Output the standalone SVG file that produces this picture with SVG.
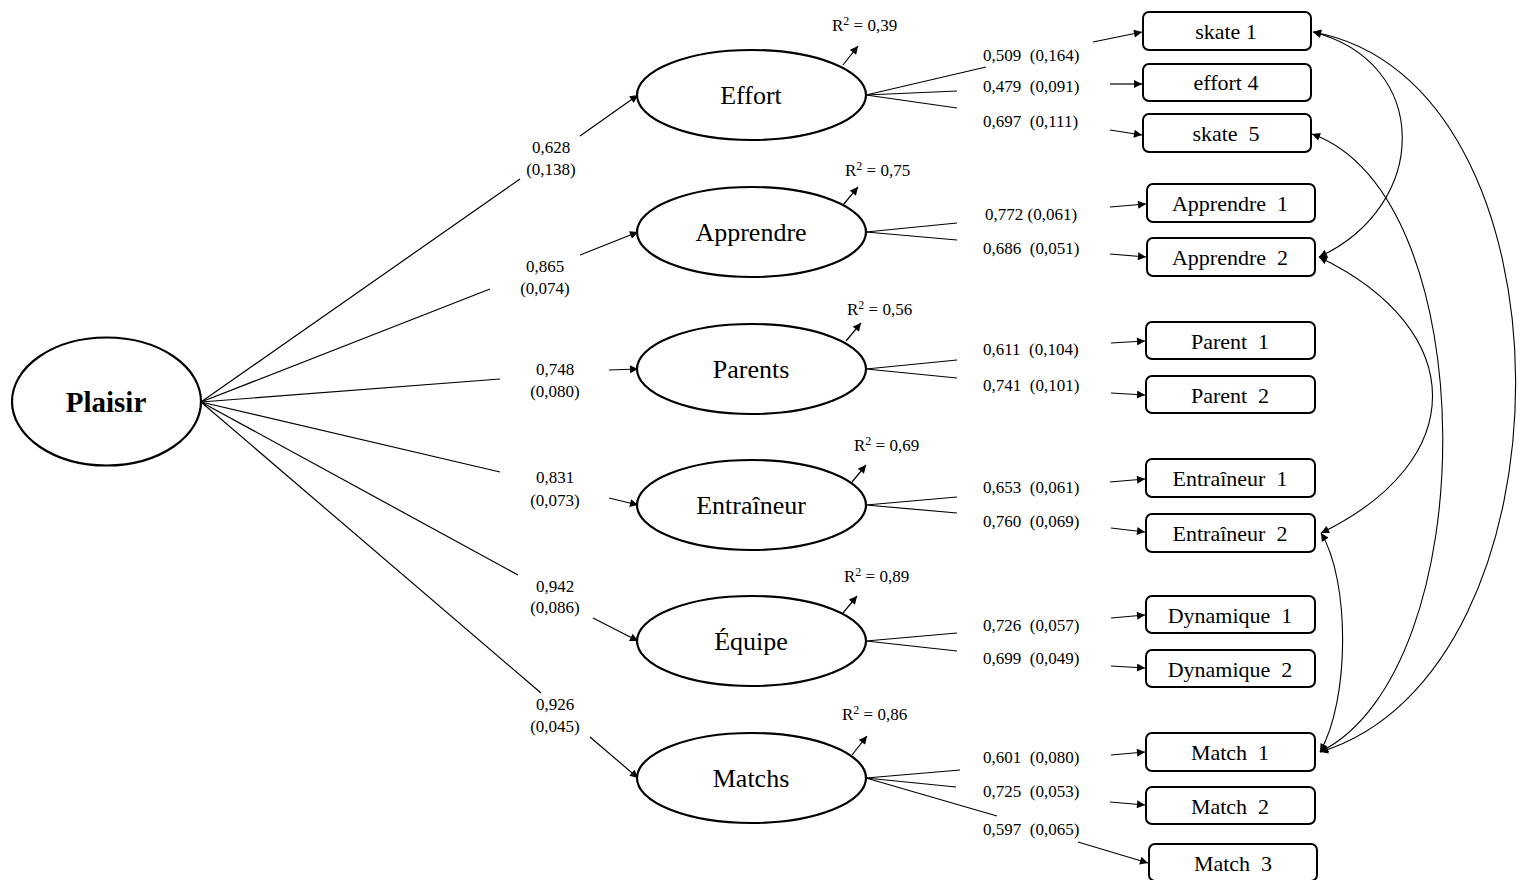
<svg xmlns="http://www.w3.org/2000/svg" width="1521" height="880" viewBox="0 0 1521 880">
<style>
.bg{fill:#fff}
.lat{fill:#fff;stroke:#000;stroke-width:2.2}
.obs{fill:#fff;stroke:#000;stroke-width:2}
.ln{fill:none;stroke:#000;stroke-width:1.2}
.ar{fill:none;stroke:#000;stroke-width:1.2;marker-end:url(#ah)}
.cv{fill:none;stroke:#000;stroke-width:1.1;marker-start:url(#ah);marker-end:url(#ah)}
text{font-family:'Liberation Serif','Times New Roman',serif;fill:#000}
.lbl{font-size:17px;white-space:pre}
.lc{font-size:17px;text-anchor:middle}
.lt{font-size:26px;text-anchor:middle}
.bt{font-size:22px;text-anchor:middle;white-space:pre}
.pl{font-size:29px;font-weight:bold;text-anchor:middle}
.sup{font-size:12px}
</style>
<defs>
<marker id="ah" viewBox="0 0 10 10" refX="10" refY="5" markerWidth="9" markerHeight="8" markerUnits="userSpaceOnUse" orient="auto-start-reverse">
<path d="M0,0 L10,5 L0,10 Z" fill="#000"/>
</marker>
</defs>
<rect class="bg" x="0" y="0" width="1521" height="880"/>

<g id="connectors">
<line class="ln" x1="201" y1="402" x2="520" y2="179"/>
<line class="ln" x1="201" y1="402" x2="490" y2="289"/>
<line class="ln" x1="201" y1="402" x2="500" y2="379"/>
<line class="ln" x1="201" y1="402" x2="500" y2="472"/>
<line class="ln" x1="201" y1="402" x2="518" y2="575"/>
<line class="ln" x1="201" y1="402" x2="541" y2="693"/>
<line class="ar" x1="580" y1="136" x2="638" y2="95"/>
<line class="ar" x1="580" y1="255" x2="638" y2="232"/>
<line class="ar" x1="609" y1="370" x2="638" y2="369"/>
<line class="ar" x1="609" y1="498" x2="638" y2="505"/>
<line class="ar" x1="593" y1="618" x2="638" y2="641"/>
<line class="ar" x1="590" y1="737" x2="638" y2="778"/>
<line class="ar" x1="843" y1="65" x2="858" y2="46"/>
<line class="ar" x1="843" y1="205" x2="858" y2="187"/>
<line class="ar" x1="846" y1="341" x2="861" y2="323"/>
<line class="ar" x1="852" y1="482" x2="866" y2="465"/>
<line class="ar" x1="843" y1="613" x2="857" y2="596"/>
<line class="ar" x1="852" y1="755" x2="867" y2="736"/>
<line class="ln" x1="866" y1="95" x2="986" y2="67"/>
<line class="ln" x1="866" y1="95" x2="957" y2="91"/>
<line class="ln" x1="866" y1="95" x2="957" y2="108"/>
<line class="ar" x1="1093" y1="42" x2="1142" y2="32"/>
<line class="ar" x1="1110" y1="84" x2="1142" y2="84"/>
<line class="ar" x1="1110" y1="130" x2="1142" y2="135"/>
<line class="ln" x1="866" y1="232" x2="957" y2="223"/>
<line class="ln" x1="866" y1="232" x2="957" y2="240"/>
<line class="ar" x1="1110" y1="207" x2="1146" y2="204"/>
<line class="ar" x1="1110" y1="254" x2="1146" y2="257"/>
<line class="ln" x1="866" y1="369" x2="957" y2="360"/>
<line class="ln" x1="866" y1="369" x2="957" y2="378"/>
<line class="ar" x1="1111" y1="343" x2="1145" y2="341"/>
<line class="ar" x1="1111" y1="393" x2="1145" y2="395"/>
<line class="ln" x1="866" y1="505" x2="957" y2="497"/>
<line class="ln" x1="866" y1="505" x2="957" y2="513"/>
<line class="ar" x1="1110" y1="482" x2="1145" y2="479"/>
<line class="ar" x1="1111" y1="528" x2="1145" y2="532"/>
<line class="ln" x1="866" y1="641" x2="957" y2="633"/>
<line class="ln" x1="866" y1="641" x2="957" y2="651"/>
<line class="ar" x1="1111" y1="618" x2="1145" y2="615"/>
<line class="ar" x1="1111" y1="666" x2="1145" y2="668"/>
<line class="ln" x1="866" y1="778" x2="960" y2="770"/>
<line class="ln" x1="866" y1="778" x2="956" y2="787"/>
<line class="ln" x1="866" y1="778" x2="997" y2="816"/>
<line class="ar" x1="1111" y1="755" x2="1145" y2="752"/>
<line class="ar" x1="1110" y1="802" x2="1145" y2="805"/>
<line class="ar" x1="1078" y1="842" x2="1148" y2="863"/>
<path class="cv" d="M1313,32 C1431,62 1431,205 1319,257"/>
<path class="cv" d="M1313,32 C1582,80 1582,672 1320,752"/>
<path class="cv" d="M1312,134 C1485,195 1485,670 1320,752"/>
<path class="cv" d="M1319,257 C1470,330 1470,461 1321,533"/>
<path class="cv" d="M1321,533 C1350,580 1350,700 1320,752"/>
</g>

<g id="coef-labels">
<text class="lc" x="551" y="153">0,628</text><text class="lc" x="551" y="175">(0,138)</text>
<text class="lc" x="545" y="272">0,865</text><text class="lc" x="545" y="294">(0,074)</text>
<text class="lc" x="555" y="375">0,748</text><text class="lc" x="555" y="397">(0,080)</text>
<text class="lc" x="555" y="483">0,831</text><text class="lc" x="555" y="506">(0,073)</text>
<text class="lc" x="555" y="592">0,942</text><text class="lc" x="555" y="613">(0,086)</text>
<text class="lc" x="555" y="710">0,926</text><text class="lc" x="555" y="732">(0,045)</text>

<text class="lbl" x="832" y="31">R<tspan class="sup" dy="-6">2</tspan><tspan dy="6"> = 0,39</tspan></text>
<text class="lbl" x="845" y="176">R<tspan class="sup" dy="-6">2</tspan><tspan dy="6"> = 0,75</tspan></text>
<text class="lbl" x="847" y="315">R<tspan class="sup" dy="-6">2</tspan><tspan dy="6"> = 0,56</tspan></text>
<text class="lbl" x="854" y="451">R<tspan class="sup" dy="-6">2</tspan><tspan dy="6"> = 0,69</tspan></text>
<text class="lbl" x="844" y="582">R<tspan class="sup" dy="-6">2</tspan><tspan dy="6"> = 0,89</tspan></text>
<text class="lbl" x="842" y="720">R<tspan class="sup" dy="-6">2</tspan><tspan dy="6"> = 0,86</tspan></text>

<text class="lbl" x="983" y="61">0,509  (0,164)</text>
<text class="lbl" x="983" y="92">0,479  (0,091)</text>
<text class="lbl" x="983" y="127">0,697  (0,111)</text>
<text class="lbl" x="985" y="220">0,772 (0,061)</text>
<text class="lbl" x="983" y="254">0,686  (0,051)</text>
<text class="lbl" x="983" y="355">0,611  (0,104)</text>
<text class="lbl" x="983" y="391">0,741  (0,101)</text>
<text class="lbl" x="983" y="493">0,653  (0,061)</text>
<text class="lbl" x="983" y="527">0,760  (0,069)</text>
<text class="lbl" x="983" y="631">0,726  (0,057)</text>
<text class="lbl" x="983" y="664">0,699  (0,049)</text>
<text class="lbl" x="983" y="763">0,601  (0,080)</text>
<text class="lbl" x="983" y="797">0,725  (0,053)</text>
<text class="lbl" x="983" y="835">0,597  (0,065)</text>
</g>

<g id="plaisir"><ellipse class="lat" cx="106.5" cy="401.5" rx="94.5" ry="64"/><text class="pl" x="106" y="412">Plaisir</text></g>
<g id="effort"><ellipse class="lat" cx="751.5" cy="95" rx="114.5" ry="45"/><text class="lt" x="751" y="104">Effort</text></g>
<g id="apprendre"><ellipse class="lat" cx="751.5" cy="232" rx="114.5" ry="45"/><text class="lt" x="751" y="241">Apprendre</text></g>
<g id="parents"><ellipse class="lat" cx="751.5" cy="369" rx="114.5" ry="45"/><text class="lt" x="751" y="378">Parents</text></g>
<g id="entraineur"><ellipse class="lat" cx="751.5" cy="505" rx="114.5" ry="45"/><text class="lt" x="751" y="514">Entraîneur</text></g>
<g id="equipe"><ellipse class="lat" cx="751.5" cy="641" rx="114.5" ry="45"/><text class="lt" x="751" y="650">Équipe</text></g>
<g id="matchs"><ellipse class="lat" cx="751.5" cy="778" rx="114.5" ry="45"/><text class="lt" x="751" y="787">Matchs</text></g>

<g id="skate1"><rect class="obs" x="1143" y="12" width="168" height="38" rx="6"/><text class="bt" x="1226" y="39">skate 1</text></g>
<g id="effort4"><rect class="obs" x="1143" y="64" width="168" height="37" rx="6"/><text class="bt" x="1226" y="90">effort 4</text></g>
<g id="skate5"><rect class="obs" x="1143" y="114" width="168" height="38" rx="6"/><text class="bt" x="1226" y="141">skate  5</text></g>
<g id="apprendre1"><rect class="obs" x="1147" y="184" width="168" height="38" rx="6"/><text class="bt" x="1230" y="211">Apprendre  1</text></g>
<g id="apprendre2"><rect class="obs" x="1147" y="238" width="168" height="38" rx="6"/><text class="bt" x="1230" y="265">Apprendre  2</text></g>
<g id="parent1"><rect class="obs" x="1146" y="322" width="169" height="37" rx="6"/><text class="bt" x="1230" y="349">Parent  1</text></g>
<g id="parent2"><rect class="obs" x="1146" y="376" width="169" height="37" rx="6"/><text class="bt" x="1230" y="403">Parent  2</text></g>
<g id="entraineur1"><rect class="obs" x="1146" y="459" width="169" height="38" rx="6"/><text class="bt" x="1230" y="486">Entraîneur  1</text></g>
<g id="entraineur2"><rect class="obs" x="1146" y="514" width="169" height="38" rx="6"/><text class="bt" x="1230" y="541">Entraîneur  2</text></g>
<g id="dynamique1"><rect class="obs" x="1146" y="596" width="169" height="37" rx="6"/><text class="bt" x="1230" y="623">Dynamique  1</text></g>
<g id="dynamique2"><rect class="obs" x="1146" y="650" width="169" height="37" rx="6"/><text class="bt" x="1230" y="677">Dynamique  2</text></g>
<g id="match1"><rect class="obs" x="1146" y="733" width="169" height="38" rx="6"/><text class="bt" x="1230" y="760">Match  1</text></g>
<g id="match2"><rect class="obs" x="1146" y="787" width="169" height="37" rx="6"/><text class="bt" x="1230" y="814">Match  2</text></g>
<g id="match3"><rect class="obs" x="1149" y="844" width="168" height="37" rx="6"/><text class="bt" x="1233" y="871">Match  3</text></g>
</svg>
